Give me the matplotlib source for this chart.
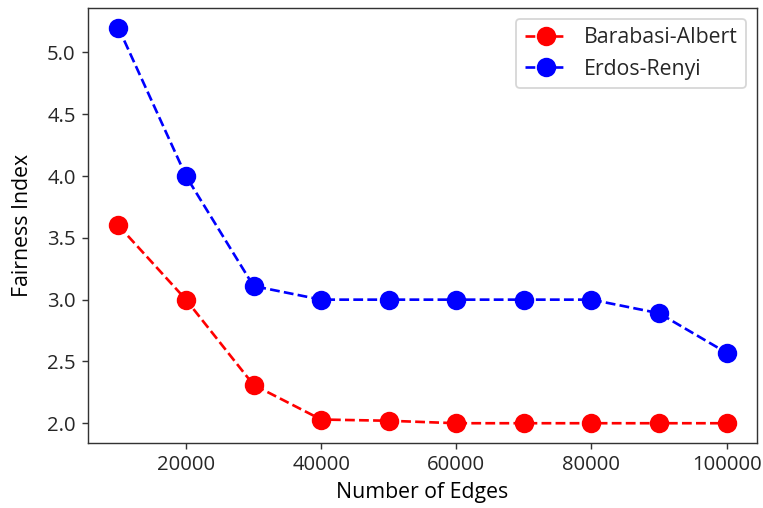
import matplotlib
matplotlib.use("Agg")
import matplotlib.pyplot as plt

edges = [10000, 20000, 30000, 40000, 50000, 60000, 70000, 80000, 90000, 100000]
ba = [3.6, 3.0, 2.31, 2.03, 2.02, 2.0, 2.0, 2.0, 2.0, 2.0]
er = [5.2, 4.0, 3.11, 3.0, 3.0, 3.0, 3.0, 3.0, 2.89, 2.57]

plt.rcParams['font.family'] = ['Open Sans', 'DejaVu Sans']
plt.rcParams['font.size'] = 12
plt.rcParams['xtick.labelsize'] = 11.5
plt.rcParams['ytick.labelsize'] = 11.5
plt.rcParams['text.color'] = '#262626'
plt.rcParams['xtick.labelcolor'] = '#262626'
plt.rcParams['ytick.labelcolor'] = '#262626'
plt.rcParams['axes.edgecolor'] = '#333333'
plt.rcParams['xtick.color'] = '#333333'
plt.rcParams['ytick.color'] = '#333333'
DPI = 763 / 6
fig = plt.figure(figsize=(6, 508 / DPI), dpi=DPI)
ax = fig.add_axes([88/763, 1-443/508, (757-88)/763, (443-8)/508])
ax.plot(edges, ba, 'r--o', markersize=10, label='Barabasi-Albert')
ax.plot(edges, er, 'b--o', markersize=10, label='Erdos-Renyi')
ax.set_xlabel('Number of Edges')
ax.set_ylabel('Fairness Index', labelpad=8)
ax.legend(loc='upper right')
fig.savefig('out.png', dpi=DPI)
